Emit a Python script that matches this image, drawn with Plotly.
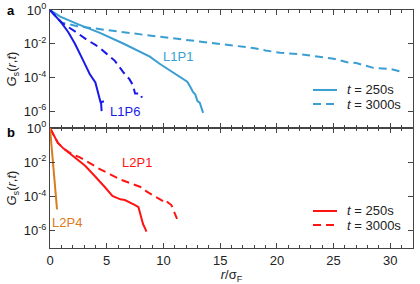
import plotly.graph_objects as go

# ---------------- data ----------------
# Panel a
L1P1_250_r = [0, 0.9, 2.5, 4.4, 6.5, 8.8, 9.7, 10.9, 11.5, 11.7, 12.1, 12.4, 12.6, 12.8, 13.0, 13.2, 13.4, 13.5]
L1P1_250_G = [1, 4.0e-1, 1.4e-1, 4.4e-2, 1.0e-2, 1.7e-3, 6.3e-4, 1.9e-4, 1.0e-4, 7.6e-5, 5.6e-5, 2.5e-5, 1.4e-5, 1.0e-5, 4.0e-6, 3.2e-6, 1.0e-6, 7.9e-7]

L1P1_3000_r = [0, 0.5, 1.0, 2.4, 4.4, 6.5, 8.4, 11.0, 14.1, 16.0, 17.9, 19.0, 20.3, 22.0, 23.8, 25.0, 26.2, 27.0, 28.5, 30.0, 31.1]
L1P1_3000_G = [1, 4.5e-1, 1.8e-1, 1.1e-1, 7.1e-2, 4.8e-2, 3.3e-2, 2.0e-2, 1.1e-2, 7.9e-3, 5.6e-3, 4.0e-3, 2.9e-3, 2.4e-3, 1.7e-3, 1.3e-3, 7.9e-4, 7.1e-4, 3.7e-4, 3.2e-4, 2.1e-4]

L1P6_250_r = [0, 0.5, 1.0, 1.6, 2.2, 2.9, 3.5, 4.0, 4.25, 4.4, 4.45, 4.75, 4.5, 4.55]
L1P6_250_G = [1, 4.0e-1, 1.8e-1, 5.0e-2, 1.0e-2, 1.1e-3, 1.6e-4, 5.0e-5, 1.3e-5, 4.0e-6, 3.5e-6, 3.8e-6, 3.4e-6, 1.0e-6]

L1P6_3000_r = [0, 0.5, 1.06, 2.4, 3.2, 4.0, 4.4, 5.0, 5.7, 6.5, 7.0, 7.3, 7.4, 7.5, 8.0, 8.1]
L1P6_3000_G = [1, 4.2e-1, 1.7e-1, 4.4e-2, 1.8e-2, 8.5e-3, 5.6e-3, 2.5e-3, 1.0e-3, 1.9e-4, 7.9e-5, 3.6e-5, 2.0e-5, 1.1e-5, 1.1e-5, 6.3e-6]

# Panel b
L2P1_250_r = [0, 0.3, 0.7, 1.2, 1.76, 2.4, 3.1, 3.8, 4.4, 4.85, 5.5, 6.2, 6.6, 7.06, 7.5, 7.8, 7.95, 8.1, 8.2, 8.4, 8.5]
L2P1_250_G = [1, 4.0e-1, 1.35e-1, 6.3e-2, 3.2e-2, 1.4e-2, 6.3e-3, 2.0e-3, 7.9e-4, 3.5e-4, 1.1e-4, 6.9e-5, 6.3e-5, 4.6e-5, 3.2e-5, 2.4e-5, 1.0e-5, 5.0e-6, 2.5e-6, 1.3e-6, 8.9e-7]

L2P1_3000_r = [0, 0.3, 0.7, 1.2, 1.6, 2.0, 2.6, 3.5, 4.4, 5.3, 6.2, 7.0, 7.6, 8.2, 8.5, 9.2, 10.0, 10.2, 10.4, 10.7, 10.9, 11.2]
L2P1_3000_G = [1, 4.0e-1, 1.35e-1, 6.3e-2, 4.1e-2, 2.8e-2, 2.0e-2, 8.9e-3, 4.0e-3, 2.0e-3, 1.0e-3, 6.3e-4, 4.5e-4, 3.2e-4, 2.0e-4, 1.1e-4, 5.2e-5, 6.3e-5, 4.5e-5, 3.2e-5, 1.6e-5, 5.0e-6]

L2P4_r = [0, 0.2, 0.4, 0.62]
L2P4_G = [1, 3.2e-2, 8.0e-4, 1.8e-5]

x_tickvals = [0, 5, 10, 15, 20, 25, 30]
y_tickvals = [1, 1e-2, 1e-4, 1e-6]
y_ticktext = ["10<sup>0</sup>", "10<sup>-2</sup>", "10<sup>-4</sup>", "10<sup>-6</sup>"]
legend_labels = ["<i>t</i> = 250s", "<i>t</i> = 3000s"]

C_L1P1 = "#3A9ED2"
C_L1P6 = "#1A1AE8"
C_L2P1 = "#FF1414"
C_L2P4 = "#DC7A1E"
FONT = "Liberation Sans, Arial, sans-serif"
FS = 13
DASH = "8px,5px"

fig = go.Figure()
LW = 2

def add(x, y, color, dash, xa, ya):
    fig.add_trace(go.Scatter(
        x=x, y=y, mode="lines", xaxis=xa, yaxis=ya,
        line=dict(color=color, width=LW, dash=dash),
        showlegend=False, hoverinfo="skip"))

add(L1P1_250_r, L1P1_250_G, C_L1P1, "solid", "x", "y")
add(L1P1_3000_r, L1P1_3000_G, C_L1P1, DASH, "x", "y")
add(L1P6_250_r, L1P6_250_G, C_L1P6, "solid", "x", "y")
add(L1P6_3000_r, L1P6_3000_G, C_L1P6, DASH, "x", "y")

add(L2P1_250_r, L2P1_250_G, C_L2P1, "solid", "x2", "y2")
add(L2P1_3000_r, L2P1_3000_G, C_L2P1, DASH, "x2", "y2")
add(L2P4_r, L2P4_G, C_L2P4, "solid", "x2", "y2")

split = 0.504
xcommon = dict(range=[0, 32], showline=True, linecolor="#444", linewidth=1, mirror="allticks",
               ticks="inside", ticklen=5, tickcolor="#444", tickvals=x_tickvals, showgrid=False,
               zeroline=False, minor=dict(dtick=1, ticks="inside", ticklen=3, tickcolor="#444"),
               tickfont=dict(family=FONT, size=FS, color="#222"), automargin=False)
ycommon = dict(type="log", range=[-7, 0], showline=True, linecolor="#444", linewidth=1, mirror="allticks",
               ticks="inside", ticklen=5, tickcolor="#444", tickvals=y_tickvals, ticktext=y_ticktext,
               showgrid=False, zeroline=False, tickfont=dict(family=FONT, size=FS, color="#222"),
               automargin=False,
               title=dict(text="<i>G</i><sub>s</sub>(<i>r</i>,<i>t</i>)", standoff=4,
                          font=dict(family=FONT, size=FS, color="#222")))

fig.update_layout(
    width=420, height=284,
    margin=dict(l=50, r=7, t=10, b=36),
    paper_bgcolor="white", plot_bgcolor="white",
    xaxis=dict(xcommon, domain=[0, 1], anchor="y", showticklabels=False),
    yaxis=dict(ycommon, domain=[split, 1], anchor="x"),
    xaxis2=dict(xcommon, domain=[0, 1], anchor="y2",
                title=dict(text="<i>r</i>/σ<sub>F</sub>", standoff=0,
                           font=dict(family=FONT, size=FS, color="#222"))),
    yaxis2=dict(ycommon, domain=[0, split], anchor="x2"),
    showlegend=False,
)

# hand-made legends (keys in paper coordinates)
KX0, KX1, TX = 0.7245, 0.7906, 0.8127
legend_rows = [(C_L1P1, [0.664, 0.605]), (C_L2P1, [0.1555, 0.0966])]
shapes = []
ann = []
for color, ys in legend_rows:
    for i, yy in enumerate(ys):
        shapes.append(dict(type="line", xref="paper", yref="paper", x0=KX0, x1=KX1, y0=yy, y1=yy,
                           line=dict(color=color, width=LW, dash="solid" if i == 0 else DASH)))
        ann.append(dict(text=legend_labels[i], x=TX, y=yy, xref="paper", yref="paper",
                        xanchor="left", yanchor="middle", showarrow=False,
                        font=dict(family=FONT, size=FS, color="#222")))

ann += [
    dict(text="<b>a</b>", x=-0.125, y=1.0, xref="paper", yref="paper", xanchor="left", yanchor="middle",
         font=dict(family=FONT, size=FS, color="black"), showarrow=False),
    dict(text="<b>b</b>", x=-0.125, y=split - 0.02, xref="paper", yref="paper", xanchor="left", yanchor="middle",
         font=dict(family=FONT, size=FS, color="black"), showarrow=False),
    dict(text="L1P1", x=11.3, y=-2.78, xref="x", yref="y", showarrow=False,
         font=dict(family=FONT, size=FS, color=C_L1P1)),
    dict(text="L1P6", x=6.6, y=-6.0, xref="x", yref="y", showarrow=False,
         font=dict(family=FONT, size=FS, color=C_L1P6)),
    dict(text="L2P1", x=7.7, y=-2.0, xref="x2", yref="y2", showarrow=False,
         font=dict(family=FONT, size=FS, color=C_L2P1)),
    dict(text="L2P4", x=1.5, y=-5.5, xref="x2", yref="y2", showarrow=False,
         font=dict(family=FONT, size=FS, color=C_L2P4)),
]
fig.update_layout(annotations=ann, shapes=shapes)

fig.write_html("out.html", config={"displayModeBar": False},
               post_script="document.body.style.margin='0';")
